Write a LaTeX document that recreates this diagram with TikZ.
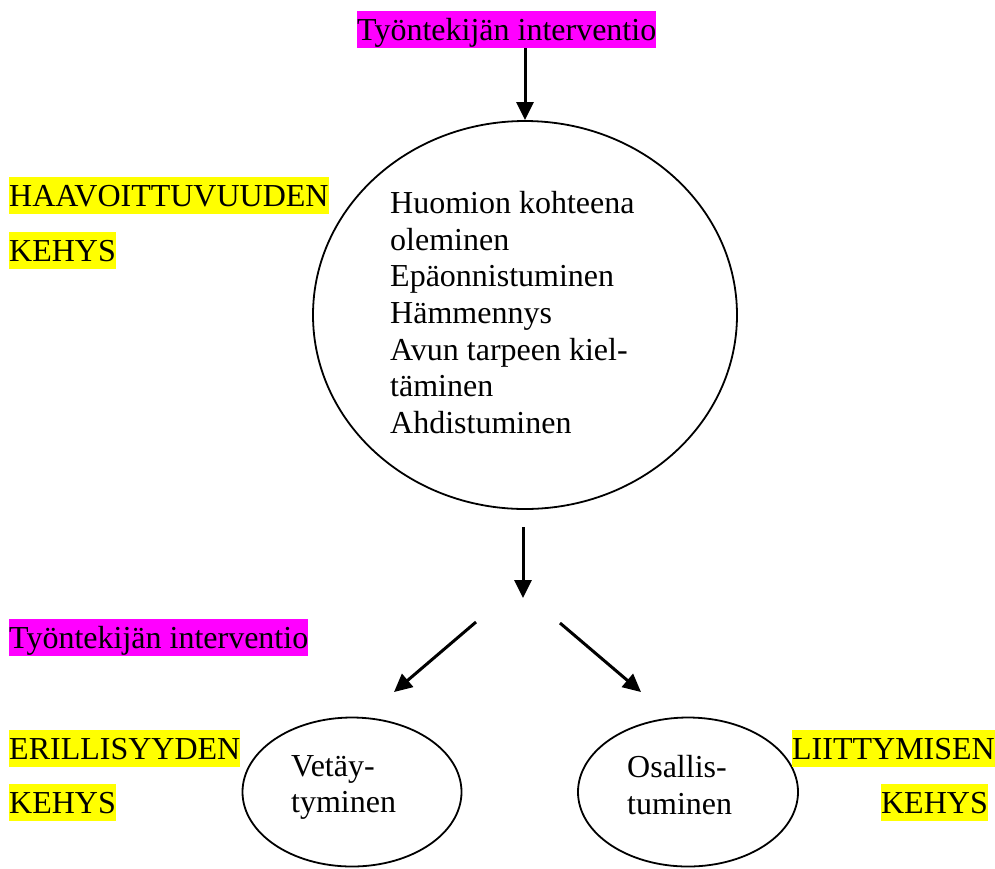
\documentclass[tikz,border=0pt]{standalone}
\usepackage{fontspec}
\setmainfont{Liberation Serif}
\usepackage{tikz}
\usetikzlibrary{arrows.meta,shapes.geometric}
\definecolor{korostusmagenta}{RGB}{255,0,255}
\definecolor{korostuskeltainen}{RGB}{255,255,0}

\begin{document}
\begin{tikzpicture}[x=1pt, y=-1pt,
        every node/.style={font={\fontsize{32}{36.7}\selectfont}, black, inner sep=0pt},
        hlyellow/.style={fill=korostuskeltainen, text height=29pt, text depth=8pt},
        hlmagenta/.style={fill=korostusmagenta, text height=29pt, text depth=8pt},
        bubble/.style={draw, ellipse, line width=1.8pt},
        arr/.style={line width=3pt, -{Triangle[length=18pt,width=17pt]}}]
        \useasboundingbox (0,0) rectangle (995,868);

        % top intervention and the big ellipse
        \node[hlmagenta, anchor=north west] (toplabel) at (357,11) {Työntekijän interventio};
        \node[bubble, minimum width=424pt, minimum height=388pt] (kohde) at (525,315) {};
        \node[anchor=north west, align=left] (kohdeteksti) at (390,191) {Huomion kohteena\\oleminen\\Epäonnistuminen\\Hämmennys\\Avun tarpeen kiel-\\täminen\\Ahdistuminen};

        \node[hlyellow, anchor=north west] (haavo) at (9,177) {HAAVOITTUVUUDEN};
        \node[hlyellow, anchor=north west] (haavokehys) at (9,232) {KEHYS};

        \draw[arr] (kohde.north |- toplabel.south) -- (kohde.north);

        % arrows below the ellipse
        \coordinate (mid1) at (523,527);
        \coordinate (mid2) at (523,598);
        \coordinate (vas1) at (476,622);
        \coordinate (vas2) at (394,692);
        \coordinate (oik1) at (560,623);
        \coordinate (oik2) at (641,692);
        \draw[arr] (mid1) -- (mid2);
        \draw[arr] (vas1) -- (vas2);
        \draw[arr] (oik1) -- (oik2);

        \node[hlmagenta, anchor=north west] (midlabel) at (9,619) {Työntekijän interventio};

        % the two small ellipses
        \node[bubble, minimum width=219pt, minimum height=149pt] (veto) at (352,792) {};
        \node[anchor=north west, align=left] (vetoteksti) at (291,755) {Vetäy-\\tyminen};
        \node[bubble, minimum width=220pt, minimum height=149pt] (osallis) at (688,792) {};
        \node[anchor=north west, align=left] (osallisteksti) at (627,755) {Osallis-\\tuminen};

        \node[hlyellow, anchor=north west] (eril) at (9,730) {ERILLISYYDEN};
        \node[hlyellow, anchor=north west] (erilkehys) at (9,784) {KEHYS};
        \node[hlyellow, anchor=north east] (liit) at (995,730) {LIITTYMISEN};
        \node[hlyellow, anchor=north east] (liitkehys) at (988,784) {KEHYS};
\end{tikzpicture}
\end{document}
